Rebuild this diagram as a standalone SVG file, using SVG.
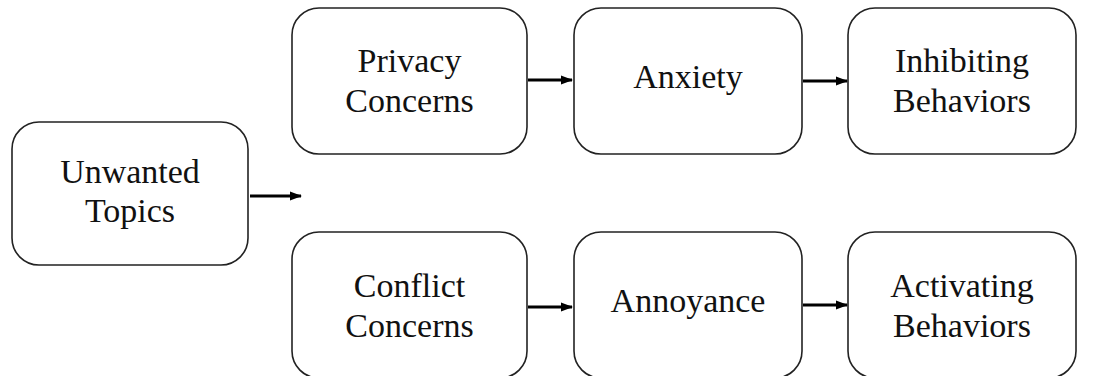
<svg xmlns="http://www.w3.org/2000/svg" width="1099" height="376" viewBox="0 0 1099 376">
<style>
.box{fill:#fff;stroke:#222;stroke-width:1.6}
.t{font-family:'Liberation Serif','DejaVu Serif',serif;font-size:34px;fill:#111;text-anchor:middle}
.c{stroke:#000;stroke-width:2.8;fill:none;marker-end:url(#ah)}
</style>
<defs>
<marker id="ah" markerWidth="12" markerHeight="10" refX="11" refY="5" orient="auto" markerUnits="userSpaceOnUse">
<path d="M0,0.5 L12,5 L0,9.5 Z" fill="#000"/>
</marker>
</defs>
<rect width="1099" height="376" fill="#fff"/>
<g id="unwanted"><rect class="box" x="12" y="122" width="236" height="143" rx="27"/><text class="t" font-family="Liberation Serif, serif" x="130" y="183">Unwanted</text><text class="t" font-family="Liberation Serif, serif" x="130" y="222">Topics</text></g>
<g id="privacy"><rect class="box" x="292" y="8" width="235" height="146" rx="27"/><text class="t" font-family="Liberation Serif, serif" x="409.5" y="72">Privacy</text><text class="t" font-family="Liberation Serif, serif" x="409.5" y="112">Concerns</text></g>
<g id="anxiety"><rect class="box" x="574" y="8" width="228" height="146" rx="27"/><text class="t" font-family="Liberation Serif, serif" x="688" y="88">Anxiety</text></g>
<g id="inhibiting"><rect class="box" x="848" y="8" width="228" height="146" rx="27"/><text class="t" font-family="Liberation Serif, serif" x="962" y="72">Inhibiting</text><text class="t" font-family="Liberation Serif, serif" x="962" y="112">Behaviors</text></g>
<g id="conflict"><rect class="box" x="292" y="232" width="235" height="146" rx="27"/><text class="t" font-family="Liberation Serif, serif" x="409.5" y="297">Conflict</text><text class="t" font-family="Liberation Serif, serif" x="409.5" y="337">Concerns</text></g>
<g id="annoyance"><rect class="box" x="574" y="232" width="228" height="146" rx="27"/><text class="t" font-family="Liberation Serif, serif" x="688" y="312">Annoyance</text></g>
<g id="activating"><rect class="box" x="848" y="232" width="228" height="146" rx="27"/><text class="t" font-family="Liberation Serif, serif" x="962" y="297">Activating</text><text class="t" font-family="Liberation Serif, serif" x="962" y="337">Behaviors</text></g>
<g id="connectors">
<line class="c" x1="250" y1="196" x2="301" y2="196"/>
<line class="c" x1="528" y1="80" x2="572" y2="80"/>
<line class="c" x1="803" y1="81" x2="847" y2="81"/>
<line class="c" x1="528" y1="307" x2="572" y2="307"/>
<line class="c" x1="803" y1="305" x2="847" y2="305"/>
</g>
</svg>
